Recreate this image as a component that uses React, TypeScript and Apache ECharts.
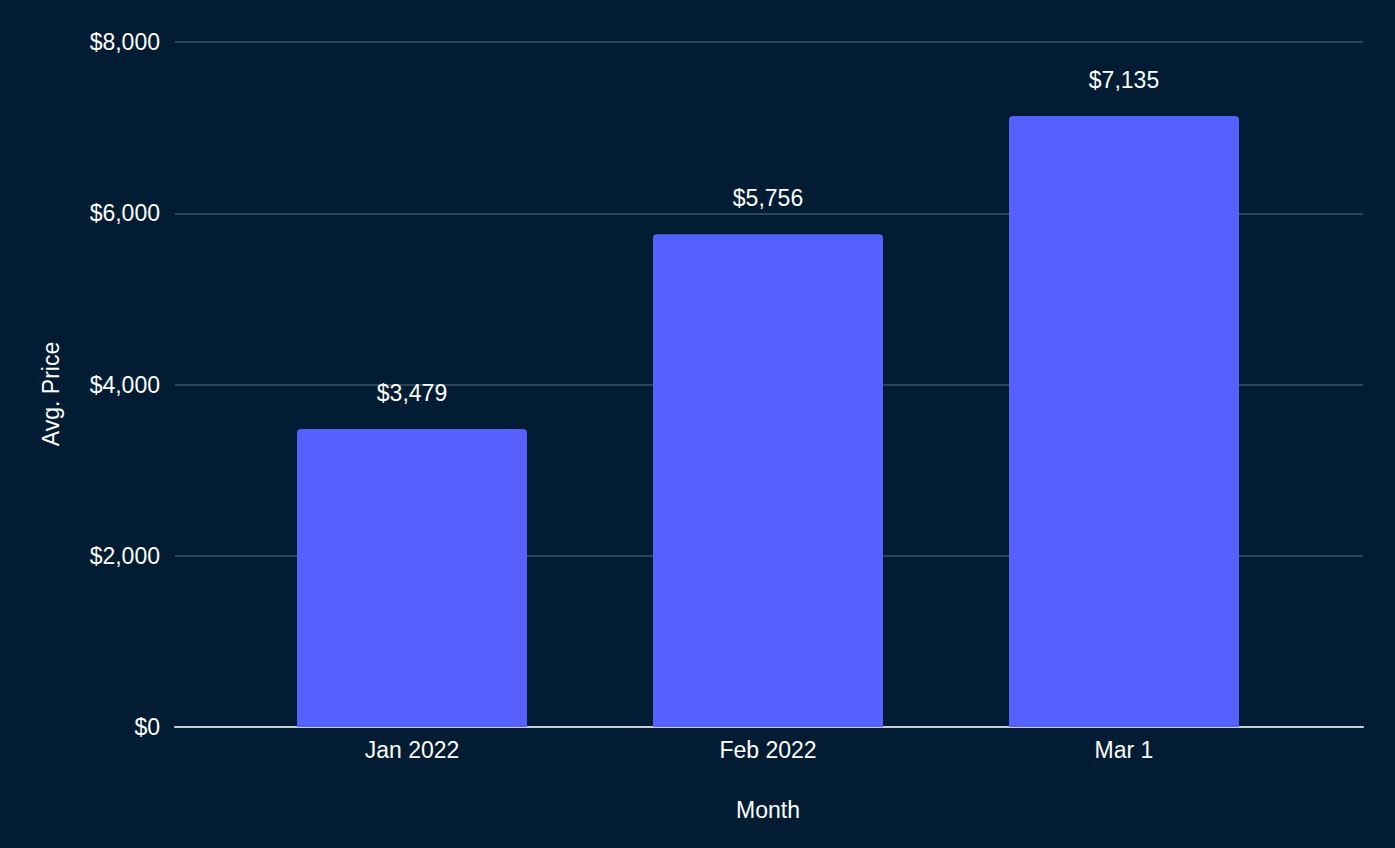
import { useRef, useEffect } from "react";
import * as echarts from "echarts";

const months = ["Jan 2022", "Feb 2022", "Mar 1"];
const avgPrice = [3479, 5756, 7135];
const yTicks = [0, 2000, 4000, 6000, 8000];

const FONT = "'Liberation Sans', Arial, sans-serif";
const FS = 23;
const money = (v: number) => "$" + v.toLocaleString("en-US");

export default function App() {
  const chartRef = useRef<HTMLDivElement>(null);

  useEffect(() => {
    if (!chartRef.current) return;
    document.body.style.margin = "0";
    const chart = echarts.init(chartRef.current, null, { renderer: "svg" });

    const yMax = yTicks[yTicks.length - 1];
    const yStep = yTicks[1] - yTicks[0];

    chart.setOption({
      animation: false,
      backgroundColor: "#021d33",
      textStyle: { fontFamily: FONT },
      grid: [
        // full-width grid for gridlines and y labels
        { left: 175, right: 32, top: 42, bottom: 121 },
        // narrower grid for the bars themselves
        { left: 234, right: 93, top: 42, bottom: 121 },
      ],
      graphic: [
        {
          type: "text",
          x: 51,
          y: 394,
          rotation: Math.PI / 2,
          style: {
            text: "Avg. Price",
            fill: "#ffffff",
            fontSize: FS,
            fontFamily: FONT,
            textAlign: "center",
            textVerticalAlign: "middle",
          },
        },
      ],
      xAxis: [
        {
          gridIndex: 0,
          type: "value",
          min: 0,
          max: 1,
          axisLine: { show: true, lineStyle: { color: "#c9cfd3", width: 2 } },
          axisTick: { show: false },
          axisLabel: { show: false },
          splitLine: { show: false },
        },
        {
          gridIndex: 1,
          type: "category",
          data: months,
          name: "Month",
          nameLocation: "middle",
          nameGap: 71,
          nameTextStyle: { color: "#ffffff", fontSize: FS, fontFamily: FONT },
          axisLine: { show: false },
          axisTick: { show: false },
          axisLabel: { color: "#ffffff", fontSize: FS, margin: 11, fontFamily: FONT },
        },
      ],
      yAxis: [
        {
          gridIndex: 0,
          type: "value",
          min: 0,
          max: yMax,
          interval: yStep,
          axisLine: { show: false },
          axisTick: { show: false },
          axisLabel: {
            color: "#ffffff",
            fontSize: FS,
            margin: 15,
            fontFamily: FONT,
            formatter: (v: number) => money(v),
          },
          splitLine: { lineStyle: { color: "#3b5566", width: 1.5 } },
        },
        {
          gridIndex: 1,
          type: "value",
          min: 0,
          max: yMax,
          show: false,
          splitLine: { show: false },
        },
      ],
      series: [
        {
          type: "bar",
          xAxisIndex: 1,
          yAxisIndex: 1,
          data: avgPrice,
          barWidth: 230,
          itemStyle: { color: "#5561ff", borderRadius: [4, 4, 0, 0] },
          label: {
            show: true,
            position: "top",
            distance: 25,
            color: "#ffffff",
            fontSize: FS,
            fontFamily: FONT,
            formatter: (p: { value: number }) => money(p.value),
          },
        },
      ],
    });

    const handleResize = () => chart.resize();
    window.addEventListener("resize", handleResize);
    return () => {
      window.removeEventListener("resize", handleResize);
      chart.dispose();
    };
  }, []);

  return <div ref={chartRef} style={{ width: "1395px", height: "848px" }} />;
}
